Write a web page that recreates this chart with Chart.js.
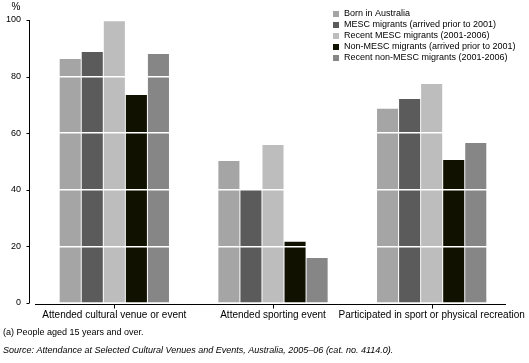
<!DOCTYPE html>
<html>
<head>
<meta charset="utf-8">
<script src="https://cdn.jsdelivr.net/npm/chart.js@4"></script>
<style>
  html, body { margin: 0; padding: 0; background: #fff; }
  #wrap { width: 529px; height: 363px; position: relative; }
</style>
</head>
<body>
<div id="wrap"><canvas id="chart"></canvas></div>
<script>
const categories = [
    "Attended cultural venue or event",
    "Attended sporting event",
    "Participated in sport or physical recreation"
];
const seriesNames = [
    "Born in Australia",
    "MESC migrants (arrived prior to 2001)",
    "Recent MESC migrants (2001-2006)",
    "Non-MESC migrants (arrived prior to 2001)",
    "Recent non-MESC migrants (2001-2006)"
];
const bornInAustralia = [86.2, 50.2, 68.6];
const mescEarly = [88.7, 40.3, 72.1];
const mescRecent = [99.6, 55.8, 77.4];
const nonMescEarly = [73.5, 21.6, 50.5];
const nonMescRecent = [88.0, 15.9, 56.5];
const yTicks = [0, 20, 40, 60, 80, 100];
const footnote = "(a) People aged 15 years and over.";
const source = "Source: Attendance at Selected Cultural Venues and Events, Australia, 2005\u201306 (cat. no. 4114.0).";

const colors = ["#a5a5a5", "#5b5b5b", "#bdbdbd", "#111100", "#868686"];
const values = [bornInAustralia, mescEarly, mescRecent, nonMescEarly, nonMescRecent];
const FONT = "'Liberation Sans', Arial, sans-serif";

// axes lines, legend and notes
const extras = {
    id: "extras",
    afterDraw(chart) {
        const c = chart.ctx;
        const area = chart.chartArea;
        const x = chart.scales.x;
        const y = chart.scales.y;
        c.save();
        c.strokeStyle = "#000";
        c.lineWidth = 1;
        // y axis
        const ax = area.left - 5.5;
        c.beginPath();
        c.moveTo(ax, y.getPixelForValue(100));
        c.lineTo(ax, y.getPixelForValue(0));
        yTicks.forEach(t => {
            const py = Math.round(y.getPixelForValue(t)) + 0.5;
            c.moveTo(ax - 3, py);
            c.lineTo(ax, py);
        });
        // x axis
        const by = Math.round(y.getPixelForValue(0)) + 1.5;
        c.moveTo(area.left, by);
        c.lineTo(area.right - 5, by);
        categories.forEach((cat, i) => {
            const px = Math.round(x.getPixelForValue(i)) + 0.5;
            c.moveTo(px, by);
            c.lineTo(px, by + 4);
        });
        c.stroke();

        c.fillStyle = "#000";
        c.font = "10px " + FONT;
        c.textAlign = "center";
        c.textBaseline = "middle";
        c.fillText("%", 16, 7);

        // legend
        c.font = "9px " + FONT;
        c.textAlign = "left";
        chart.data.datasets.forEach((ds, i) => {
            const ly = 14 + i * 10.9;
            c.fillStyle = ds.backgroundColor;
            c.fillRect(333, Math.round(ly) - 3, 6, 6);
            c.fillStyle = "#000";
            c.fillText(ds.label, 344, ly);
        });

        // notes
        c.font = "9px " + FONT;
        c.fillText(footnote, 3, 333);
        c.font = "italic 9px " + FONT;
        c.fillText(source, 3, 350);
        c.restore();
    }
};

new Chart(document.getElementById("chart"), {
    type: "bar",
    data: {
        labels: categories,
        datasets: seriesNames.map((name, i) => ({
            label: name,
            data: values[i],
            backgroundColor: colors[i],
            borderWidth: 0,
            barPercentage: 0.955,
            categoryPercentage: 0.695
        }))
    },
    options: {
        responsive: true,
        maintainAspectRatio: false,
        animation: false,
        layout: { padding: { top: 20, right: 18, left: 0, bottom: 0 } },
        plugins: {
            legend: { display: false },
            tooltip: { enabled: false }
        },
        scales: {
            x: {
                grid: { display: false, drawTicks: false },
                border: { display: false },
                ticks: {
                    color: "#000",
                    font: { family: FONT, size: 10 },
                    maxRotation: 0,
                    autoSkip: false,
                    padding: 6
                },
                afterFit(s) {
                    s.height = 60;
                    s.paddingLeft = 0;
                    s.paddingRight = 0;
                }
            },
            y: {
                min: 0,
                max: 100,
                afterBuildTicks(s) { s.ticks = yTicks.map(v => ({ value: v })); },
                grid: {
                    color: ctx => (ctx.tick.value === 0 || ctx.tick.value === 100) ? "rgba(0,0,0,0)" : "#fff",
                    lineWidth: 1.5,
                    drawTicks: false,
                    z: 1
                },
                border: { display: false },
                ticks: {
                    color: "#000",
                    font: { family: FONT, size: 9 },
                    padding: 14
                },
                afterFit(s) {
                    s.width = 35;
                    s.paddingTop = 0;
                    s.paddingBottom = 0;
                }
            }
        }
    },
    plugins: [extras]
});
</script>
</body>
</html>
